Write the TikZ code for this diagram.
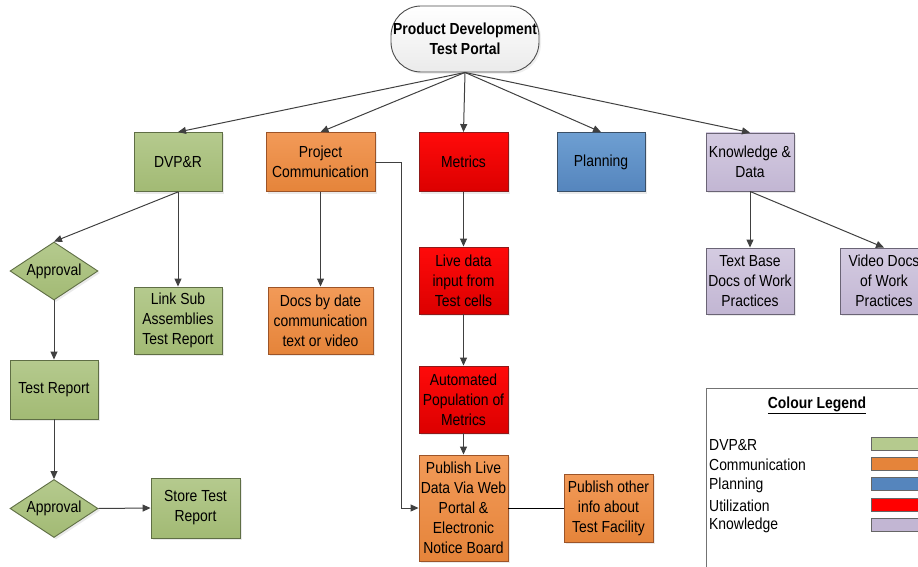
\documentclass[tikz,border=0pt]{standalone}
\usepackage{fontspec}
\setmainfont{Liberation Sans}[FakeStretch=0.87]
\usetikzlibrary{shapes.geometric,arrows.meta,shadows}
\definecolor{gTop}{HTML}{B5CA8E}
\definecolor{gBot}{HTML}{A2BA74}
\definecolor{gLine}{HTML}{5F6E45}
\definecolor{oTop}{HTML}{F29A58}
\definecolor{oBot}{HTML}{E5843A}
\definecolor{oLine}{HTML}{9C5428}
\definecolor{rTop}{HTML}{FF0A0A}
\definecolor{rBot}{HTML}{DC0000}
\definecolor{rLine}{HTML}{8E1A1A}
\definecolor{bTop}{HTML}{6E9FD2}
\definecolor{bBot}{HTML}{5585BD}
\definecolor{bLine}{HTML}{3A4F66}
\definecolor{pTop}{HTML}{D4CBE1}
\definecolor{pBot}{HTML}{C2B6D3}
\definecolor{pLine}{HTML}{6A6475}
\definecolor{arrC}{HTML}{404040}
\begin{document}
\begin{tikzpicture}[x=1pt,y=-1pt,
  font=\fontsize{16}{20}\selectfont,
  box/.style={rectangle, draw, line width=0.9pt, align=center, minimum width=88pt,
    inner sep=0pt, drop shadow={shadow xshift=2pt,shadow yshift=-2pt,fill=black!16}},
  green/.style={box, draw=gLine, top color=gTop, bottom color=gBot},
  orange/.style={box, draw=oLine, top color=oTop, bottom color=oBot},
  red/.style={box, draw=rLine, top color=rTop, bottom color=rBot},
  blue/.style={box, draw=bLine, top color=bTop, bottom color=bBot},
  lav/.style={box, draw=pLine, top color=pTop, bottom color=pBot},
  dia/.style={diamond, draw=gLine, line width=0.9pt, top color=gTop, bottom color=gBot,
    inner sep=0pt, aspect=1.5, minimum width=88pt, minimum height=58pt,
    drop shadow={shadow xshift=2pt,shadow yshift=-2pt,fill=black!16}},
  arr/.style={draw=arrC, line width=1pt, -{Triangle[length=8pt,width=7pt]}},
  swatch/.style={draw=black!60, line width=0.8pt, minimum width=64pt, minimum height=13pt,
    inner sep=0pt, anchor=west},
  legtxt/.style={anchor=west, inner sep=0pt}
]
\useasboundingbox (0,0) rectangle (918,567);
\clip (0,0) rectangle (918,567);

% root
\node[draw=black!70, line width=0.9pt, rounded corners=30pt, top color=white, bottom color=black!8,
  minimum width=148pt, minimum height=66pt, align=center, inner sep=0pt,
  font=\fontsize{16}{20}\selectfont\bfseries,
  drop shadow={shadow xshift=2pt,shadow yshift=-2pt,fill=black!12}]
  (root) at (465,39) {Product Development\\Test Portal};

% top row
\node[green, minimum height=59pt] (dvp) at (178,162) {DVP\&R};
\node[orange, minimum width=109pt, minimum height=59pt] (pc) at (320.5,162) {Project\\Communication};
\node[red, minimum width=89pt, minimum height=59pt] (met) at (463.5,162) {Metrics};
\node[blue, minimum height=59pt] (plan) at (601,162) {Planning};
\node[lav, minimum height=58pt] (kd) at (750,162) {Knowledge \&\\Data};

% second row
\node[dia] (ap1) at (54,271) {Approval};
\node[green, minimum height=67pt] (link) at (178,320.5) {Link Sub\\Assemblies\\Test Report};
\node[orange, minimum width=105pt, minimum height=67pt] (docs) at (320.5,320.5) {Docs by date\\communication\\text or video};
\node[red, minimum width=89pt, minimum height=67pt] (live) at (463.5,280.5) {Live data\\input from\\Test cells};
\node[lav, minimum height=66pt] (tb) at (750,281) {Text Base\\Docs of Work\\Practices};
\node[lav, minimum height=66pt] (vd) at (884,281) {Video Docs\\of Work\\Practices};

% lower
\node[green, minimum height=59pt] (tr) at (54,389.5) {Test Report};
\node[dia] (ap2) at (54,508.5) {Approval};
\node[green, minimum width=89pt, minimum height=60pt] (st) at (195.5,508) {Store Test\\Report};
\node[red, minimum width=89pt, minimum height=67pt] (auto) at (463.5,399.5) {Automated\\Population of\\Metrics};
\node[orange, minimum width=89pt, minimum height=106pt] (pub) at (463.5,508) {Publish Live\\Data Via Web\\Portal \&\\Electronic\\Notice Board};
\node[orange, minimum width=89pt, minimum height=68pt] (oth) at (608.5,508) {Publish other\\info about\\Test Facility};

% connectors
\foreach \t in {dvp,pc,met,plan,kd} \draw[arr] (root.south) -- (\t.north);
\draw[arr] (dvp.south) -- (ap1.north);
\draw[arr] (dvp.south) -- (link.north);
\draw[arr] (pc.south) -- (docs.north);
\draw[arr] (pc.east) -- ++(26,0) |- (pub.west);
\draw[arr] (met.south) -- (live.north);
\draw[arr] (live.south) -- (auto.north);
\draw[arr] (auto.south) -- (pub.north);
\draw[arr] (kd.south) -- (tb.north);
\draw[arr] (kd.south) -- (vd.north);
\draw[arr] (ap1.south) -- (tr.north);
\draw[arr] (tr.south) -- (ap2.north);
\draw[arr] (ap2.east) -- (st.west);
\draw[black, line width=0.9pt] (pub.east) -- (oth.west);

% legend
\draw[black!55, line width=0.9pt, fill=white] (706,388) rectangle (960,600);
\node[inner sep=0pt, font=\fontsize{16}{20}\selectfont\bfseries] (legt) at (817,405) {\underline{Colour Legend}};
\node[legtxt] (l1) at (709,445) {DVP\&R};
\node[legtxt] (l2) at (709,465) {Communication};
\node[legtxt] (l3) at (709,485.5) {Planning};
\node[legtxt] (l4) at (709,505.5) {Utilization};
\node[legtxt] (l5) at (709,525.5) {Knowledge};
\node[swatch, fill=gTop] (s1) at (871,443.5) {};
\node[swatch, fill=oBot] (s2) at (871,463.5) {};
\node[swatch, fill=bBot] (s3) at (871,484) {};
\node[swatch, fill=red] (s4) at (871,504.5) {};
\node[swatch, fill=pBot] (s5) at (871,525) {};
\end{tikzpicture}
\end{document}
